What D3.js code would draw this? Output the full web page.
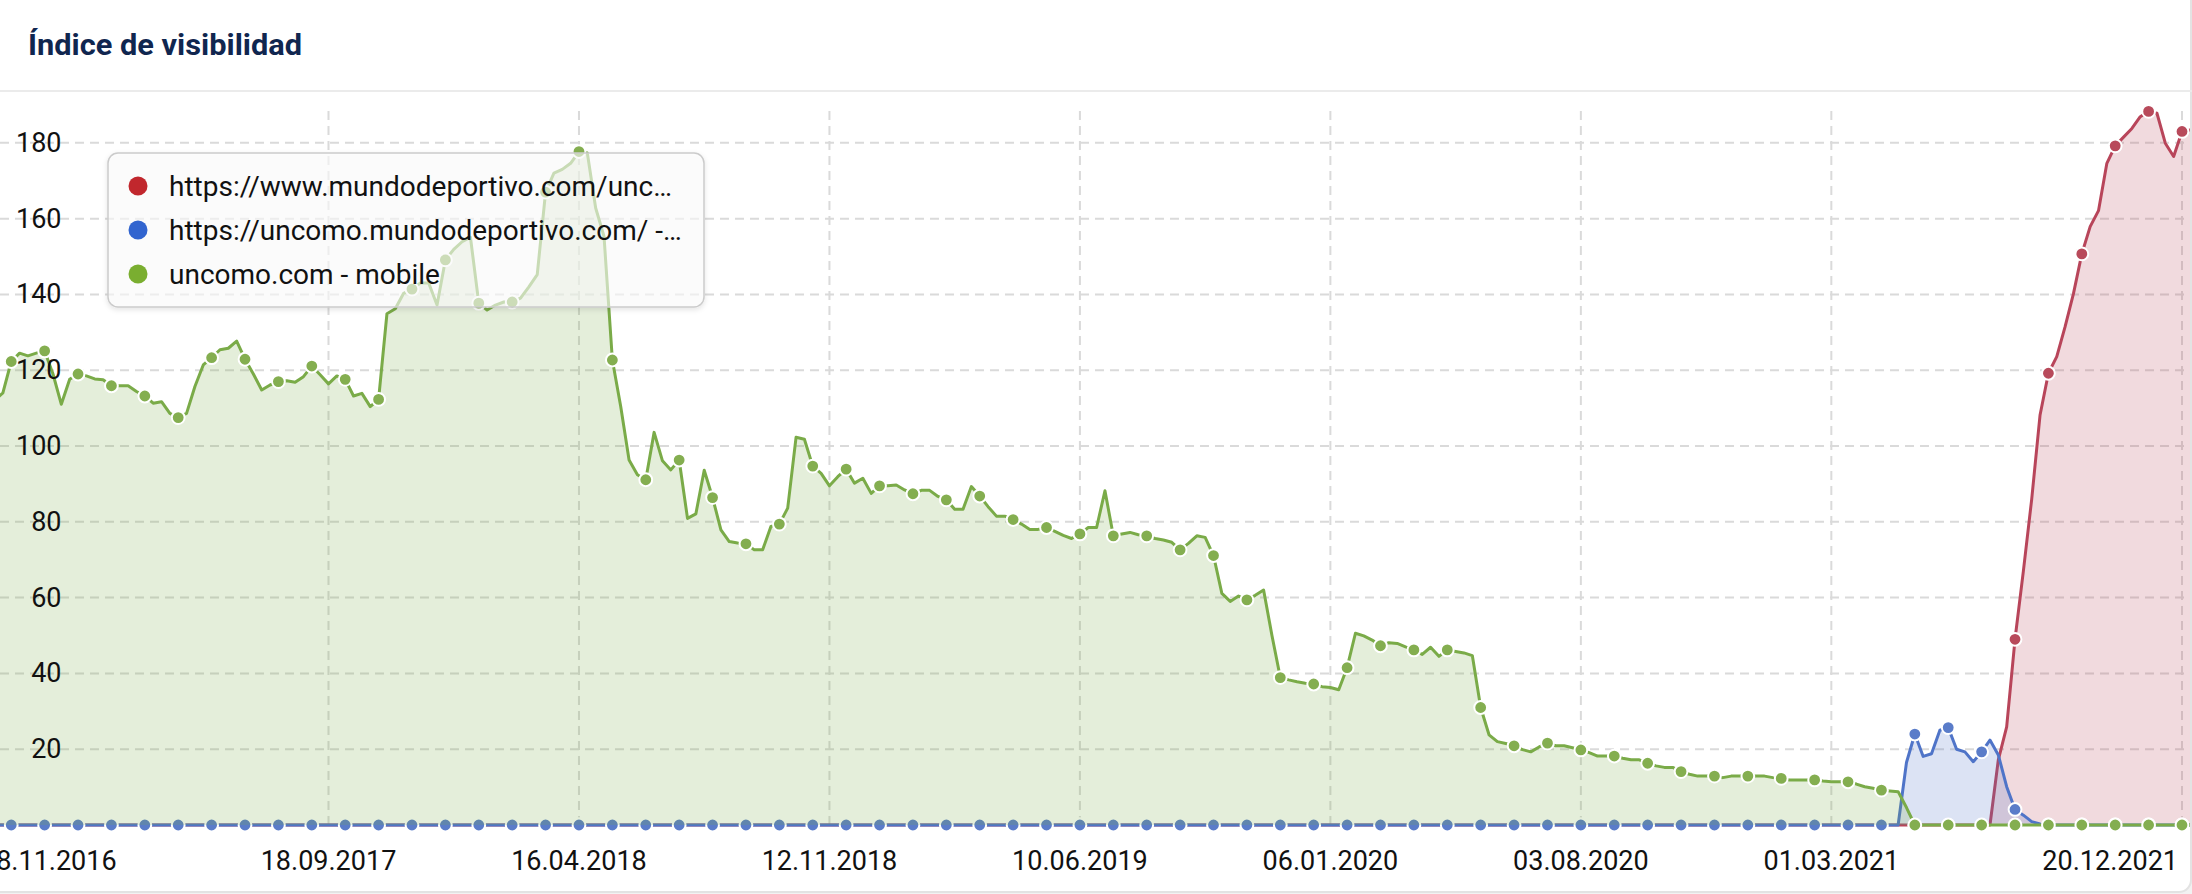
<!DOCTYPE html>
<html><head><meta charset="utf-8">
<script src="https://cdn.jsdelivr.net/npm/d3@7/dist/d3.min.js"></script>
<style>
html,body{margin:0;padding:0;background:#f2f2f2;overflow:hidden;}
svg{display:block;font-family:Roboto,"Noto Sans",sans-serif;}
</style></head><body>
<svg id="chart" width="2192" height="894"></svg>
<script>
// ---------------- DATA ----------------
const chartTitle = "Índice de visibilidad";
const weekStart = "12.12.2016";           // first weekly data point
const seriesNames = [
  "https://www.mundodeportivo.com/unc…",
  "https://uncomo.mundodeportivo.com/ -…",
  "uncomo.com - mobile"
];
const xTickLabels = ["28.11.2016","18.09.2017","16.04.2018","12.11.2018","10.06.2019","06.01.2020","03.08.2020","01.03.2021","20.12.2021"];
const yTickValues = [20,40,60,80,100,120,140,160,180];

const redValues = [
  0,0,0,0,0,0,0,0,0,0,0,0,0,0,0,0,0,0,0,0,0,0,0,0,0,0,0,0,0,0,0,0,0,0,0,0,0,0,0,0,
  0,0,0,0,0,0,0,0,0,0,0,0,0,0,0,0,0,0,0,0,0,0,0,0,0,0,0,0,0,0,0,0,0,0,0,0,0,0,0,0,
  0,0,0,0,0,0,0,0,0,0,0,0,0,0,0,0,0,0,0,0,0,0,0,0,0,0,0,0,0,0,0,0,0,0,0,0,0,0,0,0,
  0,0,0,0,0,0,0,0,0,0,0,0,0,0,0,0,0,0,0,0,0,0,0,0,0,0,0,0,0,0,0,0,0,0,0,0,0,0,0,0,
  0,0,0,0,0,0,0,0,0,0,0,0,0,0,0,0,0,0,0,0,0,0,0,0,0,0,0,0,0,0,0,0,0,0,0,0,0,0,0,0,
  0,0,0,0,0,0,0,0,0,0,0,0,0,0,0,0,0,0,0,0,0,0,0,0,0,0,0,0,0,0,0,0,0,0,0,0,0,0,0,0,
  17.2,25.9,49,67,86,108.2,119.2,123.6,131.5,140.2,150.7,157.9,162.1,174.6,179.2,181.5,
  183.8,186.9,188.3,187.8,179.9,176.4,183,183.4
];
const blueValues = [
  0,0,0,0,0,0,0,0,0,0,0,0,0,0,0,0,0,0,0,0,0,0,0,0,0,0,0,0,0,0,0,0,0,0,0,0,0,0,0,0,
  0,0,0,0,0,0,0,0,0,0,0,0,0,0,0,0,0,0,0,0,0,0,0,0,0,0,0,0,0,0,0,0,0,0,0,0,0,0,0,0,
  0,0,0,0,0,0,0,0,0,0,0,0,0,0,0,0,0,0,0,0,0,0,0,0,0,0,0,0,0,0,0,0,0,0,0,0,0,0,0,0,
  0,0,0,0,0,0,0,0,0,0,0,0,0,0,0,0,0,0,0,0,0,0,0,0,0,0,0,0,0,0,0,0,0,0,0,0,0,0,0,0,
  0,0,0,0,0,0,0,0,0,0,0,0,0,0,0,0,0,0,0,0,0,0,0,0,0,0,0,0,0,0,0,0,0,0,0,0,0,0,0,0,
  0,0,0,0,0,0,0,0,0,0,0,0,0,0,0,0,0,0,0,0,0,0,0,0,0,0,0,0,0,
  16.5,24,18.1,18.8,25,25.7,20,19.3,16.7,19.3,22.4,18.5,10.1,4.1,2.6,0.9,0.3,
  0,0,0,0,0,0,0,0,0,0,0,0,0,0,0,0,0,0
];
const greenValues = [
  112,114,122.3,124.5,123.8,124.5,125.1,119,111,117.6,
  119,118.5,117.7,117.5,115.9,115.9,115.9,114.4,113.2,111.3,
  111.7,108.6,107.5,108.6,115.7,121.4,123.3,125.4,125.8,127.7,
  122.9,119,114.8,116.1,117,117.2,116.8,118.3,121.1,118.8,
  116.4,118.5,117.6,113.2,113.9,110.4,112.3,134.9,136.2,140.3,
  141.4,143,143,137.2,149.1,151.9,153.9,155.1,137.7,135.9,
  137.2,138,138,139,142,145.2,167,172,173,174.6,
  177.7,177.3,162.8,155.3,122.7,110.4,96.3,92.4,91.1,103.6,
  96.1,93.7,96.3,80.9,82.1,93.6,86.4,77.9,74.8,74.4,
  74.2,72.6,72.6,78.8,79.4,83.6,102.3,101.8,94.7,92.8,
  89.5,91.9,93.9,90.2,91.5,87.5,89.5,89.5,89.7,88.4,
  87.4,88.3,88.3,86.7,85.8,83.3,83.3,89.3,86.8,84,
  81.5,81.5,80.6,79.4,78,78,78.5,77.5,76.4,75.6,
  76.8,78.5,78.5,88.2,76.3,76.8,77.2,76.6,76.3,75.6,
  75.2,74.6,72.6,74.3,76.3,75.9,71.1,61.1,59,60.4,
  59.4,60.6,62,50,38.9,38.3,37.8,37.4,37.2,36.5,
  36.3,35.7,41.5,50.6,49.9,48.8,47.3,48.1,47.9,47,
  46.2,45,46.9,44.5,46.2,45.8,45.4,44.7,31,23.8,
  22,21.5,20.9,19.9,19.3,20.6,21.6,20.9,20.9,20.4,
  19.8,19.1,18.2,18.2,18.2,17.6,17.2,17.2,16.3,15.6,
  15.2,15.2,14.1,13.4,12.9,12.9,12.9,12.5,12.9,12.9,
  12.9,12.9,12.9,12.5,12.3,11.9,11.9,11.9,11.9,11.6,
  11.4,11.4,11.4,10.8,10.1,9.7,9.2,9,8.8,4.6,
  0,0,0,0,0,0,0,0,0,0,
  0,0,0,0,0,0,0,0,0,0,
  0,0,0,0,0,0,0,0,0,0,
  0,0,0,0
];

// ---------------- LAYOUT ----------------
const W = 2192, H = 894;
const plotTop = 111, plotBottom = 825, plotRight = 2190;
const parseDate = s => { const [d,m,y] = s.split(".").map(Number); return new Date(Date.UTC(y, m-1, d)); };
const start = parseDate(weekStart);
const dateAt = i => new Date(start.getTime() + i*7*86400000);

const x = d3.scaleUtc()
  .domain([parseDate("18.09.2017"), parseDate("20.12.2021")])
  .range([328.5, 2182]);
const y = d3.scaleLinear().domain([0, 188.4]).range([plotBottom, plotTop]);

const svg = d3.select("#chart");
const defs = svg.append("defs");
defs.append("clipPath").attr("id","plotclip").append("rect")
  .attr("x",0).attr("y",95).attr("width",plotRight).attr("height",745);
const shadow = defs.append("filter").attr("id","shadow").attr("x","-5%").attr("y","-10%").attr("width","110%").attr("height","130%");
shadow.append("feDropShadow").attr("dx",0).attr("dy",2).attr("stdDeviation",2.5).attr("flood-color","#000").attr("flood-opacity",0.14);

// card
svg.append("rect").attr("x",0).attr("y",0).attr("width",W).attr("height",H).attr("fill","#f2f2f2");
svg.append("rect").attr("x",-14).attr("y",-20).attr("width",2205).attr("height",912)
  .attr("rx",12).attr("fill","#fff").attr("stroke","#e3e3e3").attr("stroke-width",2);

// title + separator
svg.append("text").attr("x",28).attr("y",55).text(chartTitle)
  .attr("font-size",30).attr("font-weight",700).attr("fill","#10264f")
  .attr("textLength",274).attr("lengthAdjust","spacingAndGlyphs");
svg.append("line").attr("x1",0).attr("x2",W).attr("y1",91).attr("y2",91)
  .attr("stroke","#ebebeb").attr("stroke-width",2);

// grid
const grid = svg.append("g");
grid.selectAll("line.h").data(yTickValues).join("line")
  .attr("x1",0).attr("x2",plotRight).attr("y1",d=>y(d)).attr("y2",d=>y(d))
  .attr("stroke","#dadada").attr("stroke-width",2).attr("stroke-dasharray","9,6");
const tickDates = xTickLabels.map(parseDate);
grid.selectAll("line.v").data(tickDates.filter(d => x(d) >= 0 && x(d) <= W)).join("line")
  .attr("x1",d=>x(d)).attr("x2",d=>x(d)).attr("y1",plotTop).attr("y2",plotBottom)
  .attr("stroke","#dadada").attr("stroke-width",2).attr("stroke-dasharray","9,6");

// series
const series = [
  {name: seriesNames[0], values: redValues,   line:"#b8455a", marker:"#b84a5b", legend:"#c1272d"},
  {name: seriesNames[1], values: blueValues,  line:"#4f74c8", marker:"#5a7cc9", legend:"#3164cf"},
  {name: seriesNames[2], values: greenValues, line:"#7aab48", marker:"#84ae50", legend:"#7aae30"}
];
const plot = svg.append("g").attr("clip-path","url(#plotclip)");
const area = d3.area().x(d=>x(d.date)).y0(y(0)).y1(d=>y(d.v));
const line = d3.line().x(d=>x(d.date)).y(d=>y(d.v));
series.forEach(s => {
  const pts = s.values.map((v,i)=>({date:dateAt(i), v, i}));
  const g = plot.append("g");
  g.append("path").attr("d",area(pts)).attr("fill",s.line).attr("fill-opacity",0.2);
  g.append("path").attr("d",line(pts)).attr("fill","none").attr("stroke",s.line)
    .attr("stroke-width",3).attr("stroke-linejoin","round");
  g.selectAll("circle").data(pts.filter(p => p.i % 4 === 2)).join("circle")
    .attr("cx",d=>x(d.date)).attr("cy",d=>y(d.v)).attr("r",6.4)
    .attr("fill",s.marker).attr("stroke","#fff").attr("stroke-width",2);
});

// y labels
svg.append("g").selectAll("text").data(yTickValues).join("text")
  .attr("x",61.5).attr("y",d=>y(d)+9).attr("text-anchor","end")
  .attr("font-size",27).attr("fill","#111").text(d=>d);

// x labels (justified inside chart bounds)
const leftBound = -19, rightBound = 2178;
const xl = svg.append("g");
tickDates.forEach((d,i) => {
  const t = xl.append("text").attr("y",870).attr("font-size",27).attr("fill","#111")
    .attr("text-anchor","start").text(xTickLabels[i]);
  const w = t.node().getComputedTextLength();
  let left = x(d) - w/2;
  if (left < leftBound) left = leftBound;
  if (left + w > rightBound) left = rightBound - w;
  t.attr("x", left);
});

// legend
const lg = svg.append("g");
lg.append("rect").attr("x",108).attr("y",153).attr("width",596).attr("height",154).attr("rx",10)
  .attr("fill","rgba(255,255,255,0.58)").attr("stroke","#cbcbcb").attr("stroke-width",1.5)
  .attr("filter","url(#shadow)");
series.forEach((s,i) => {
  const cy = 186 + i*44;
  lg.append("circle").attr("cx",138).attr("cy",cy).attr("r",9.5).attr("fill",s.legend);
  lg.append("text").attr("x",169).attr("y",cy+10).attr("font-size",28).attr("fill","#111").text(s.name);
});
</script>
</body></html>
